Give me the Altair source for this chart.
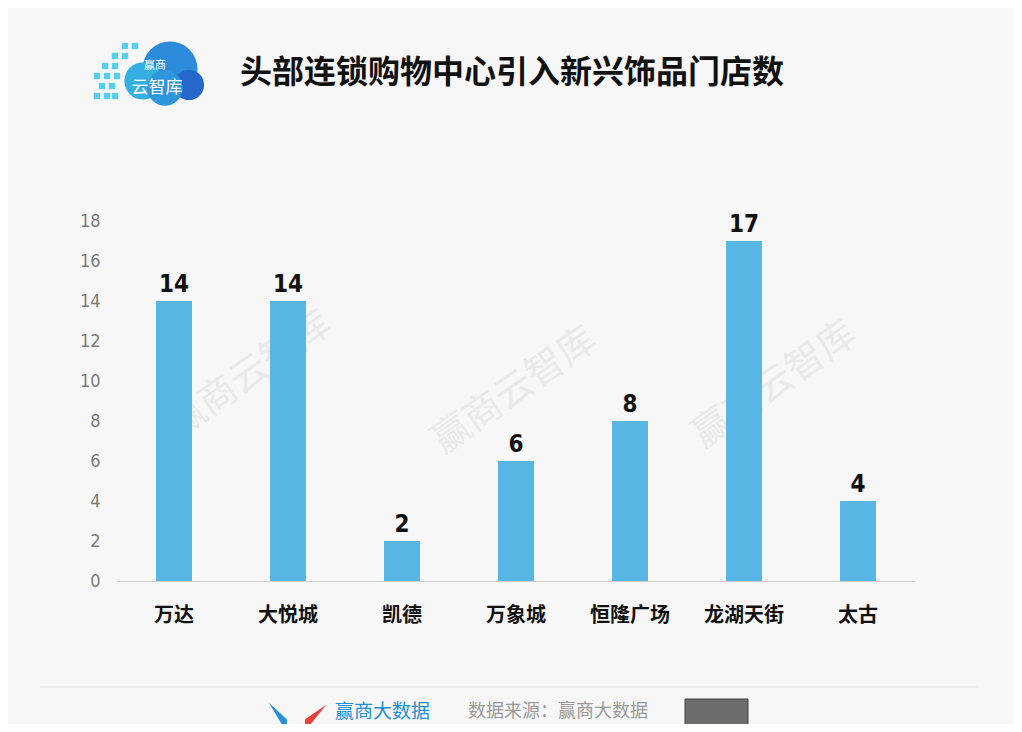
import altair as alt
import pandas as pd

# ---- data ----
categories = ["万达", "大悦城", "凯德", "万象城", "恒隆广场", "龙湖天街", "太古"]
values = [14, 14, 2, 6, 8, 17, 4]
y_ticks = [0, 2, 4, 6, 8, 10, 12, 14, 16, 18]

title_text = "头部连锁购物中心引入新兴饰品门店数"
watermark_text = "赢商云智库"
source_text = "数据来源：赢商大数据"
brand_text = "赢商大数据"

df = pd.DataFrame({"name": categories, "value": values})
one = pd.DataFrame({"k": [0]})

W, H = 798, 360
CJK = "Noto Sans CJK SC"
NARROW = "'DejaVu Sans Condensed', 'Liberation Sans Narrow', Roboto, 'DejaVu Sans', sans-serif"

x_enc = alt.X(
    "name:N",
    sort=categories,
    scale=alt.Scale(paddingInner=0, paddingOuter=0),
    axis=alt.Axis(
        title=None,
        labelAngle=0,
        ticks=False,
        domain=True,
        domainColor="#cfcfcf",
        domainWidth=1,
        labelFont=CJK,
        labelFontWeight="bold",
        labelFontSize=20,
        labelColor="#111111",
        labelPadding=24,
        labelBaseline="top",
    ),
)
y_enc = alt.Y(
    "value:Q",
    scale=alt.Scale(domain=[0, 18], nice=False),
    axis=alt.Axis(
        title=None,
        values=y_ticks,
        grid=False,
        ticks=False,
        domain=False,
        labelOverlap=False,
        labelFont=NARROW,
        labelFontSize=18,
        labelFontWeight=300,
        labelColor="#7a7a7a",
        labelPadding=17,
    ),
)

base = alt.Chart(df)

bars = base.mark_bar(color="#58B6E4", size=36).encode(x=x_enc, y=y_enc)

value_labels = base.mark_text(
    font=NARROW, fontWeight="bold", fontSize=24, color="#111111",
    baseline="alphabetic", dy=-9,
).encode(x=x_enc, y=y_enc, text="value:Q")


def deco_text(txt, x, y, **kw):
    return alt.Chart(one).mark_text(**kw).encode(
        x=alt.value(x), y=alt.value(y), text=alt.value(txt)
    )


# watermarks
wm_positions = [(133, 154), (398, 170), (658, 164)]
watermarks = [
    deco_text(watermark_text, x, y, font=CJK, fontSize=38, color="#e9e9e9",
              angle=325, align="center", baseline="middle")
    for x, y in wm_positions
]

title = deco_text(title_text, 123, -148, font=CJK, fontWeight="bold",
                  fontSize=32, color="#111111", align="left", baseline="middle")

# logo (cloud)
cloud_parts = [
    (53, -152, 31, "#2C8BDA"),
    (26, -140, 21, "#35AEE2"),
    (72, -136, 17, "#2468CC"),
    (48, -133, 20, "#2F96DC"),
]
cloud = [
    alt.Chart(one).mark_circle(opacity=1, color=c, size=3.1416 * r * r).encode(
        x=alt.value(x), y=alt.value(y)
    )
    for x, y, r, c in cloud_parts
]
pix = [(-2, -165), (8, -165), (-12, -155), (-2, -155), (-20, -145), (-10, -145),
       (0, -145), (-15, -135), (-5, -135), (-20, -125), (-10, -125), (-2, -125),
       (18, -175), (8, -175)]
pixels = [
    alt.Chart(one).mark_square(opacity=1, color="#56CFEA", size=40).encode(
        x=alt.value(x), y=alt.value(y)
    )
    for x, y in pix
]
logo_t1 = deco_text("赢商", 38, -155, font=CJK, fontSize=11, color="white",
                    align="center", baseline="middle")
logo_t2 = deco_text("云智库", 40, -133, font=CJK, fontSize=17, color="white",
                    align="center", baseline="middle")

# footer
divider = alt.Chart(one).mark_rule(color="#e3e3e3", strokeWidth=1).encode(
    x=alt.value(-77), x2=alt.value(861), y=alt.value(466)
)
v_blue = alt.Chart(one).mark_point(
    shape="M -1 -1 L 0.2 1 L 0.2 0.1 Z", filled=True, color="#2A8FDB",
    opacity=1, size=900,
).encode(x=alt.value(167), y=alt.value(497))
v_red = alt.Chart(one).mark_point(
    shape="M 1 -1 L -0.6 1 L -0.6 0.1 Z", filled=True, color="#E5403A",
    opacity=1, size=700,
).encode(x=alt.value(196), y=alt.value(497))
brand = deco_text(brand_text, 218, 491, font=CJK, fontSize=19, color="#1E8ED6",
                  align="left", baseline="middle")
source = deco_text(source_text, 351, 491, font=CJK, fontSize=18, color="#9a9a9a",
                   align="left", baseline="middle")
qr = alt.Chart(one).mark_rect(color="#555555", stroke="#222222", opacity=0.85).encode(
    x=alt.value(568), x2=alt.value(631), y=alt.value(478), y2=alt.value(520)
)

chart = alt.layer(
    *watermarks, bars, value_labels, title, *cloud, *pixels, logo_t1, logo_t2,
    divider, v_blue, v_red, brand, source, qr,
).properties(
    width=W, height=H,
    padding={"left": 109, "top": 213, "right": 99, "bottom": 143},
    autosize=alt.AutoSizeParams(type="none"),
).configure(
    background="#f7f7f7",
).configure_view(stroke=None)

chart.save("out.html", embed_options={"renderer": "svg", "actions": False})
